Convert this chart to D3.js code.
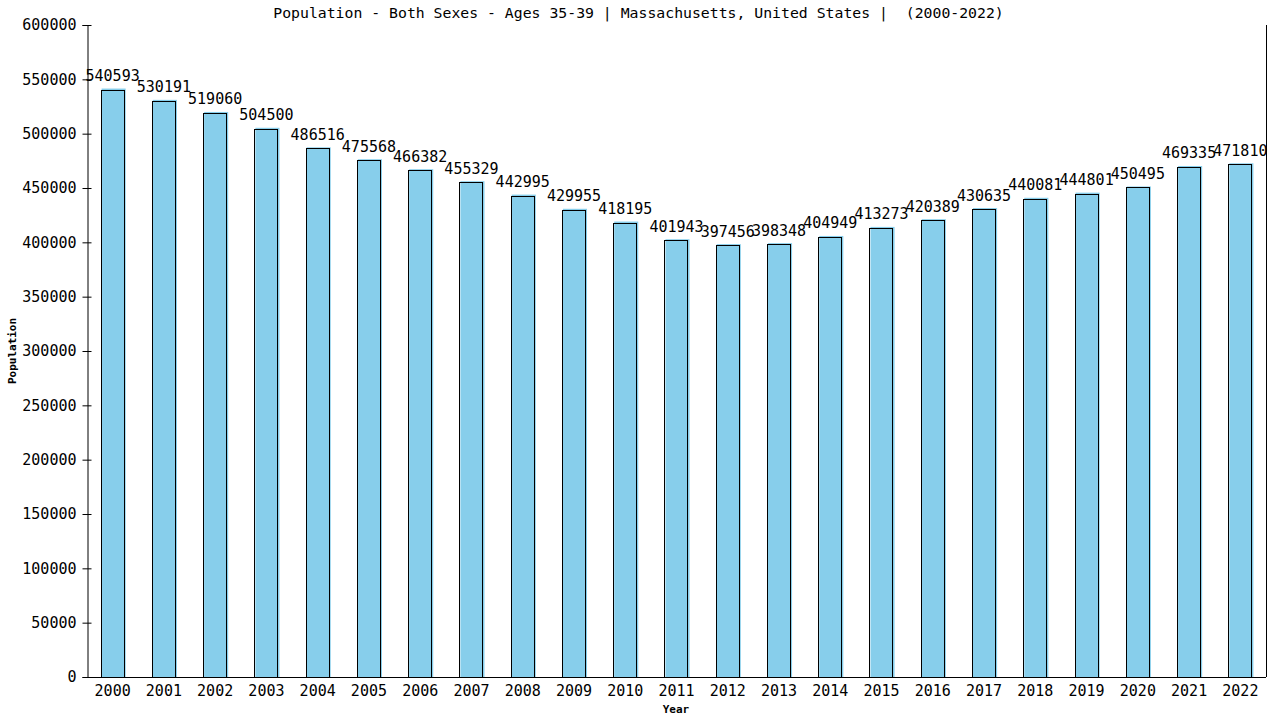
<!DOCTYPE html>
<html><head><meta charset="utf-8">
<script src="https://cdn.jsdelivr.net/npm/d3@7"></script>
<style>body{margin:0;background:#fff}svg{display:block}text{font-family:"DejaVu Sans Mono",monospace}</style>
</head><body><svg id="c" width="1280" height="720"></svg>
<script>
const years = ["2000","2001","2002","2003","2004","2005","2006","2007","2008","2009","2010","2011","2012","2013","2014","2015","2016","2017","2018","2019","2020","2021","2022"];
const population = [540593,530191,519060,504500,486516,475568,466382,455329,442995,429955,418195,401943,397456,398348,404949,413273,420389,430635,440081,444801,450495,469335,471810];
const yTicks = [0,50000,100000,150000,200000,250000,300000,350000,400000,450000,500000,550000,600000];
const title = "Population - Both Sexes - Ages 35-39 | Massachusetts, United States |  (2000-2022)";

const svg = d3.select("#c");
const L=87, R=1266, T=25, B=677;
const x = d3.scaleBand().domain(years).range([L,R]).paddingInner(0.53).paddingOuter(0.265);
const y = d3.scaleLinear().domain([0,600000]).range([B,T]);

// bars
const g = svg.append("g");
g.selectAll("rect.f").data(population).join("rect").attr("class","f")
  .attr("x",(d,i)=>x(years[i])+1).attr("y",d=>y(d)-1)
  .attr("width",x.bandwidth()).attr("height",d=>B-y(d)+1)
  .attr("fill","#87CEEB");
g.selectAll("rect.s").data(population).join("rect").attr("class","s")
  .attr("x",(d,i)=>Math.round(x(years[i]))+0.5).attr("y",d=>Math.round(y(d))+0.5)
  .attr("width",Math.round(x.bandwidth())-1).attr("height",d=>B-Math.round(y(d)))
  .attr("fill","none").attr("stroke","#000").attr("stroke-width",1);

// value labels
g.selectAll("text.v").data(population).join("text").attr("class","v")
  .attr("x",(d,i)=>x(years[i])+x.bandwidth()/2).attr("y",d=>y(d)-8.5)
  .attr("text-anchor","middle").attr("font-size","15px").attr("fill","#000")
  .text(d=>d);

// y axis
const ya = svg.append("g").attr("transform",`translate(${L+0.5},0)`)
  .call(d3.axisLeft(y).tickValues(yTicks).tickSize(5).tickPadding(6).tickFormat(d3.format("d")));
ya.select(".domain").attr("stroke","#000");
ya.selectAll(".tick line").attr("x2",4).attr("x1",-5).attr("stroke","#000");
ya.selectAll(".tick text").attr("font-size","15px").attr("font-family","DejaVu Sans Mono").attr("fill","#000").attr("x",-11);

// x axis
const xa = svg.append("g").attr("transform",`translate(0,${B+0.5})`)
  .call(d3.axisBottom(x).tickSize(0).tickPadding(8));
xa.select(".domain").attr("stroke","#000").attr("d",`M${L},0H${R}`);
xa.selectAll(".tick text").attr("font-size","15px").attr("font-family","DejaVu Sans Mono").attr("fill","#000");

// right border
svg.append("line").attr("x1",R+0.5).attr("x2",R+0.5).attr("y1",T).attr("y2",B).attr("stroke","#000");

// titles
svg.append("text").attr("x",638.5).attr("y",18).attr("text-anchor","middle").attr("font-size","14.8px")
  .style("white-space","pre").attr("xml:space","preserve").text(title);
svg.append("text").attr("x",676).attr("y",713).attr("text-anchor","middle").attr("font-size","11px").attr("font-weight","bold").text("Year");
svg.append("text").attr("transform","translate(16,351) rotate(-90)").attr("text-anchor","middle").attr("font-size","11px").attr("font-weight","bold").text("Population");
</script></body></html>
